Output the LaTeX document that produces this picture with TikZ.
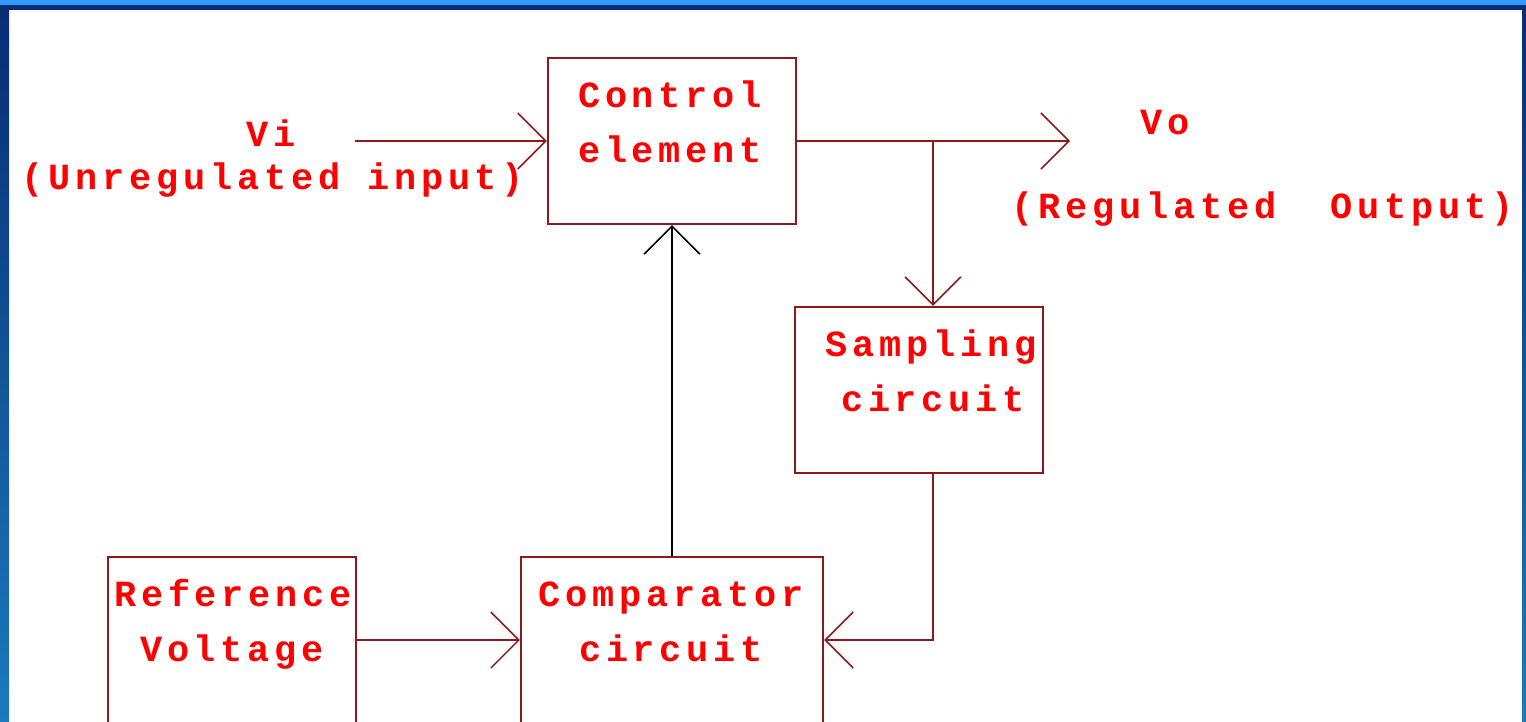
\documentclass[tikz,border=0pt]{standalone}
\usepackage{fontspec}
\usetikzlibrary{arrows.meta,positioning}
\newfontfamily\pixfont[LetterSpace=13]{Liberation Mono}
\definecolor{boxred}{RGB}{140,26,26}
\definecolor{txtred}{RGB}{255,0,0}
\definecolor{navy}{RGB}{8,43,117}
\definecolor{skyblue}{RGB}{51,153,255}
\definecolor{framebot}{RGB}{28,122,186}
\tikzset{
  block/.style={draw=boxred, line width=1.2pt, minimum width=4.96cm, minimum height=3.32cm, inner sep=0pt},
  lbl/.style={text=txtred, font=\pixfont\bfseries\fontsize{21}{27}\selectfont, inner sep=0pt, anchor=base},
  flow/.style={boxred, line width=1.2pt, -{Straight Barb[length=0.56cm,width=1.12cm,line width=0.9pt]}},
}
\begin{document}
\begin{tikzpicture}[x=0.02cm,y=-0.02cm]
\useasboundingbox (0,0) rectangle (1526,721);
%frame
\shade[top color=navy, bottom color=framebot] (0,0) rectangle (9,721);
\shade[top color=navy, bottom color=framebot] (1522,0) rectangle (1526,721);
\fill[navy] (0,0) rectangle (1526,10);
\fill[skyblue] (0,0) rectangle (1526,5);
%blocks
\node[block] (ctrl) at (672,141) {};
\node[block] (samp) at (919,390) {};
\node[block] (ref) at (232,640) {};
\node[block, minimum width=6.04cm] (comp) at (672,640) {};
\node[lbl] (ctrla) at (670,107) {Control};
\node[lbl] (ctrlb) at (670,162) {element};
\node[lbl] (sampa) at (931,356) {Sampling};
\node[lbl] (sampb) at (933,411) {circuit};
\node[lbl] (refa) at (233,606) {Reference};
\node[lbl] (refb) at (232,661) {Voltage};
\node[lbl] (compa) at (671,606) {Comparator};
\node[lbl] (compb) at (671,661) {circuit};
%input / output labels
\node[lbl] (vi) at (271,146) {Vi};
\node[lbl] (viname) at (273,189) {(Unregulated input)};
\node[lbl] (vo) at (1165,134) {Vo};
\node[lbl] (voname) at (1263,218) {(Regulated\ \ Output)};
%connectors
\coordinate (vin) at (355,141);
\coordinate (vout) at (1070,141);
\coordinate (tap) at (933,141);
\draw[flow] (vin) -- (ctrl.west);
\draw[flow] (ctrl.east) -- (vout);
\draw[flow] (tap) -- (tap |- samp.north);
\draw[flow] (tap |- samp.south) |- (comp.east);
\draw[flow] (ref.east) -- (comp.west);
\draw[flow, black] (comp.north) -- (ctrl.south);
\end{tikzpicture}
\end{document}
